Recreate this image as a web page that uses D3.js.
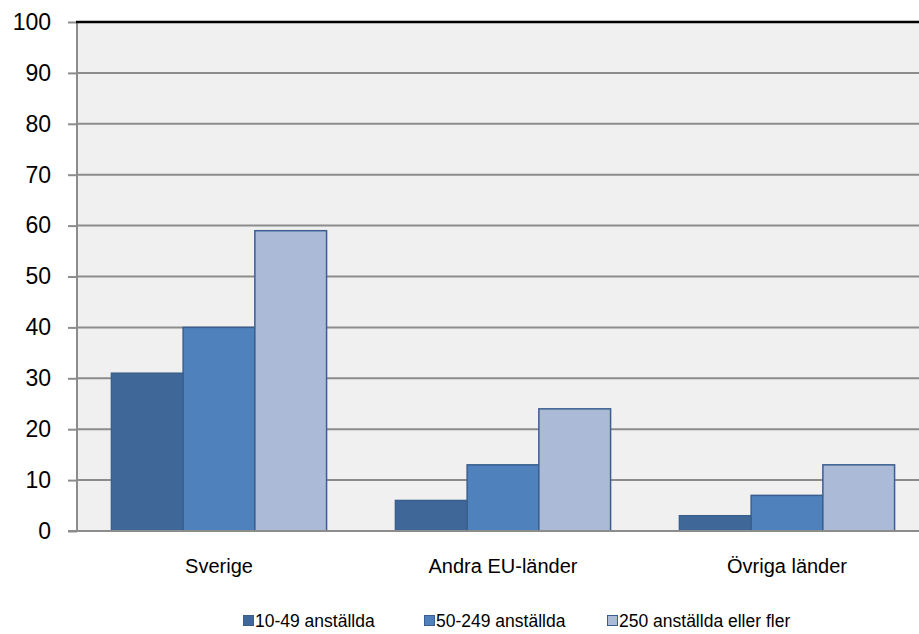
<!DOCTYPE html>
<html>
<head>
<meta charset="utf-8">
<script src="https://cdn.jsdelivr.net/npm/d3@7"></script>
<style>
  body { margin: 0; background: #fff; }
  text { font-family: "Liberation Sans", Arial, sans-serif; fill: #000; }
</style>
</head>
<body>
<div id="divChart"></div>
<script>
var categories = ["Sverige", "Andra EU-länder", "Övriga länder"];
var seriesNames = ["10-49 anställda", "50-249 anställda", "250 anställda eller fler"];
var small = [31, 6, 3];
var medium = [40, 13, 7];
var large = [59, 24, 13];
var yTicks = [0, 10, 20, 30, 40, 50, 60, 70, 80, 90, 100];

function init()
{
    var width = 919, height = 634;
    var left = 77, top = 22, bottom = 531, right = 929;
    var colors = ["#3F6899", "#4F81BD", "#AABAD7"];
    var series = [small, medium, large];

    var svg = d3.select("#divChart").append("svg")
        .attr("width", width)
        .attr("height", height);

    var scaleX = d3.scaleBand().domain(categories).range([left, right]);
    var scaleY = d3.scaleLinear().domain([0, 100]).range([bottom, top]);

    // фон области графика
    svg.append("rect")
        .attr("x", left).attr("y", top)
        .attr("width", width - left).attr("height", bottom - top)
        .style("fill", "#F0F0F0");

    // сетка
    svg.selectAll("line.grid").data(yTicks.slice(1, -1)).enter()
        .append("line")
        .attr("class", "grid")
        .attr("x1", left).attr("x2", width)
        .attr("y1", function(d){ return scaleY(d); })
        .attr("y2", function(d){ return scaleY(d); })
        .style("stroke", "#8C8C8C")
        .style("stroke-width", 2);

    // столбцы
    var inner = d3.scaleBand().domain([0, 1, 2])
        .range([0, scaleX.bandwidth()]).paddingOuter(0.48).paddingInner(0);
    series.forEach(function(vals, s) {
        svg.selectAll("rect.s" + s).data(vals).enter()
            .append("rect")
            .attr("class", "s" + s)
            .attr("x", function(d, i){ return scaleX(categories[i]) + inner(s); })
            .attr("y", function(d){ return scaleY(d); })
            .attr("width", inner.bandwidth())
            .attr("height", function(d){ return bottom - scaleY(d); })
            .style("fill", colors[s])
            .style("stroke", "#3A5F8E")
            .style("stroke-width", 1.5);
    });

    // ось Y
    var yAxis = d3.axisLeft(scaleY).tickValues(yTicks).tickSize(9).tickPadding(17);
    var gy = svg.append("g")
        .attr("transform", "translate(" + left + ",0)")
        .call(yAxis);
    gy.select(".domain").remove();
    gy.selectAll(".tick line").style("stroke", "#8C8C8C").style("stroke-width", 2);
    gy.selectAll(".tick text").style("font-size", "23px")
        .style("font-family", "'Liberation Sans', Arial, sans-serif").style("fill", "#000");
    gy.append("line")
        .attr("x1", 0).attr("x2", 0)
        .attr("y1", top).attr("y2", bottom + 1)
        .style("stroke", "#8C8C8C").style("stroke-width", 2);

    // нижняя ось
    svg.append("line")
        .attr("x1", left - 9).attr("x2", width)
        .attr("y1", bottom).attr("y2", bottom)
        .style("stroke", "#8C8C8C").style("stroke-width", 2);

    // верхняя граница
    svg.append("line")
        .attr("x1", left - 1).attr("x2", width)
        .attr("y1", top).attr("y2", top)
        .style("stroke", "#000").style("stroke-width", 2.5);

    // подписи категорий
    svg.selectAll("text.cat").data(categories).enter()
        .append("text")
        .attr("class", "cat")
        .attr("x", function(d){ return scaleX(d) + scaleX.bandwidth() / 2; })
        .attr("y", 573)
        .attr("text-anchor", "middle")
        .style("font-size", "20px")
        .text(function(d){ return d; });

    // легенда
    var legendX = [243, 424, 607];
    var lg = svg.selectAll("g.legend").data(seriesNames).enter()
        .append("g")
        .attr("class", "legend")
        .attr("transform", function(d, i){ return "translate(" + legendX[i] + ",615)"; });
    lg.append("rect")
        .attr("x", 0.5).attr("y", 0.5)
        .attr("width", 10).attr("height", 10)
        .style("fill", function(d, i){ return colors[i]; })
        .style("stroke", "#3A5F8E").style("stroke-width", 1);
    lg.append("text")
        .attr("x", 12).attr("y", 12)
        .style("font-size", "17.5px")
        .text(function(d){ return d; });
}

window.onload = init;
</script>
</body>
</html>
